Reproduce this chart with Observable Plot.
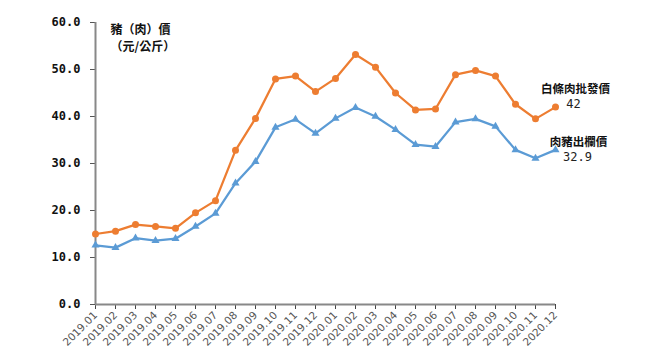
<!DOCTYPE html>
<html>
<head>
<meta charset="utf-8">
<script src="https://cdn.jsdelivr.net/npm/d3@7"></script>
<script src="https://cdn.jsdelivr.net/npm/@observablehq/plot@0.6"></script>
<style>
  html, body { margin: 0; padding: 0; background: #fff; }
  svg { display: block; }
</style>
</head>
<body>
<div id="chart"></div>
<script>
const months = ["2019.01","2019.02","2019.03","2019.04","2019.05","2019.06","2019.07","2019.08","2019.09","2019.10","2019.11","2019.12",
                "2020.01","2020.02","2020.03","2020.04","2020.05","2020.06","2020.07","2020.08","2020.09","2020.10","2020.11","2020.12"];
const wholesalePrice = [15.0,15.6,17.0,16.6,16.2,19.5,22.1,32.8,39.6,48.0,48.6,45.3,48.1,53.2,50.5,45.0,41.4,41.6,48.9,49.8,48.6,42.6,39.5,42];
const hogPrice = [12.6,12.1,14.1,13.6,14.0,16.6,19.4,25.8,30.4,37.7,39.4,36.4,39.6,41.9,40.0,37.2,34.0,33.6,38.8,39.5,37.9,32.9,31.1,32.9];
const seriesNames = ["白條肉批發價", "肉豬出欄價"];
const yTicks = [0, 10, 20, 30, 40, 50, 60];
const axisTitle = "豬（肉）價\n（元/公斤）";

const orange = "#ED7D31";
const blue = "#5B9BD5";

const wData = months.map((m, i) => ({m, v: wholesalePrice[i]}));
const hData = months.map((m, i) => ({m, v: hogPrice[i]}));
const last = months.length - 1;
const wLast = [{m: months[last], v: wholesalePrice[last], name: seriesNames[0]}];
const hLast = [{m: months[last], v: hogPrice[last], name: seriesNames[1]}];

const chart = Plot.plot({
  width: 651,
  height: 361,
  marginLeft: 95,
  marginRight: 96,
  marginTop: 22,
  marginBottom: 57,
  style: {background: "#fff", fontFamily: "'DejaVu Sans', sans-serif"},
  x: {type: "point", domain: months, padding: 0, label: null},
  y: {domain: [0, 60], label: null},
  marks: [
    Plot.axisY({ticks: yTicks, tickFormat: d => d.toFixed(1), tickSize: 5, tickPadding: 10, label: null,
      fontSize: 12, fontWeight: "bold", fontFamily: "'DejaVu Sans Mono', monospace", fill: "#111", stroke: "#555"}),
    Plot.axisX({tickRotate: -45, tickSize: 5, tickPadding: 4, fontSize: 10.5, label: null,
      fontFamily: "'DejaVu Sans', sans-serif", fill: "#555", stroke: "#444"}),
    Plot.ruleX([months[0]], {stroke: "#888", strokeWidth: 2}),
    Plot.ruleY([0], {stroke: "#888", strokeWidth: 2}),
    Plot.line(wData, {x: "m", y: "v", stroke: orange, strokeWidth: 2.25}),
    Plot.dot(wData, {x: "m", y: "v", fill: orange, r: 3.5, symbol: "circle"}),
    Plot.line(hData, {x: "m", y: "v", stroke: blue, strokeWidth: 2.25}),
    Plot.dot(hData, {x: "m", y: "v", fill: blue, r: 3, symbol: "triangle"}),
    Plot.text([axisTitle], {frameAnchor: "top-left", textAnchor: "start", lineAnchor: "top",
      dx: 15, dy: 0, lineHeight: 1.4, fontSize: 12, fontWeight: "bold", fill: "#111",
      fontFamily: "'Noto Sans CJK TC', sans-serif"}),
    Plot.text(wLast, {x: "m", y: "v", text: "name", dx: 20, dy: -18, fontSize: 11.5, fontWeight: "bold",
      fill: "#111", fontFamily: "'Noto Sans CJK TC', sans-serif"}),
    Plot.text(wLast, {x: "m", y: "v", text: d => String(d.v), dx: 18, dy: -3, fontSize: 12,
      fill: "#222", fontFamily: "'DejaVu Sans Mono', monospace"}),
    Plot.text(hLast, {x: "m", y: "v", text: "name", dx: 23, dy: -8, fontSize: 11.5, fontWeight: "bold",
      fill: "#111", fontFamily: "'Noto Sans CJK TC', sans-serif"}),
    Plot.text(hLast, {x: "m", y: "v", text: d => String(d.v), dx: 22, dy: 7, fontSize: 12,
      fill: "#222", fontFamily: "'DejaVu Sans Mono', monospace"})
  ]
});
document.getElementById("chart").appendChild(chart);
</script>
</body>
</html>
